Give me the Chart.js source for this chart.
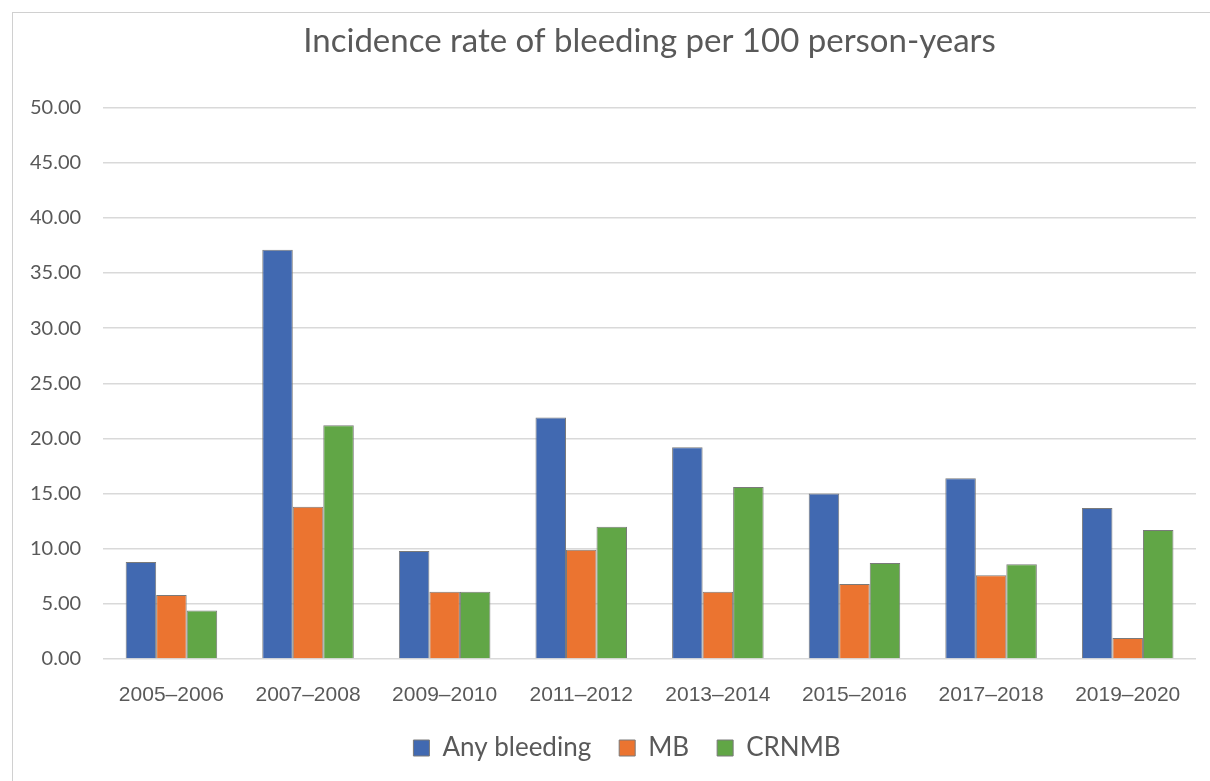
<!DOCTYPE html>
<html>
<head>
<meta charset="utf-8">
<script src="https://cdn.jsdelivr.net/npm/chart.js@4.4.1/dist/chart.umd.min.js"></script>
<style>
  html, body { margin: 0; padding: 0; background: #fff; overflow: hidden; }
  #wrap { position: relative; width: 1210px; height: 781px; }
  #frame { position: absolute; left: 12px; top: 12px; width: 1300px; height: 900px;
           border: 1px solid #d0d0d0; pointer-events: none; }
</style>
</head>
<body>
<div id="wrap">
  <canvas id="bleeding" width="1210" height="781"></canvas>
  <div id="frame"></div>
</div>
<script>
const periods = ['2005–2006', '2007–2008', '2009–2010', '2011–2012', '2013–2014', '2015–2016', '2017–2018', '2019–2020'];
const anyBleeding = [8.8, 37.1, 9.8, 21.9, 19.2, 15.0, 16.4, 13.7];
const majorBleeding = [5.8, 13.8, 6.1, 9.9, 6.1, 6.8, 7.6, 1.9];
const crnmBleeding = [4.4, 21.2, 6.1, 12.0, 15.6, 8.7, 8.6, 11.7];

const calibriLike = 'Lato, "Open Sans", sans-serif';

// Excel puts the legend a bit right of the canvas centre
const nudgeLegend = {
  id: 'nudgeLegend',
  afterLayout(chart) {
    const lg = chart.legend;
    if (!lg) return;
    lg.left += 25;
    lg.right += 25;
  }
};

const ctx = document.getElementById('bleeding').getContext('2d');
new Chart(ctx, {
  type: 'bar',
  data: {
    labels: periods,
    datasets: [
      { label: 'Any bleeding', data: anyBleeding, backgroundColor: '#4169b1' },
      { label: 'MB', data: majorBleeding, backgroundColor: '#eb7430' },
      { label: 'CRNMB', data: crnmBleeding, backgroundColor: '#61a646' }
    ].map(d => Object.assign(d, {
      borderColor: '#7a7a7a',
      borderWidth: 1,
      categoryPercentage: 0.67,
      barPercentage: 1.0
    }))
  },
  plugins: [nudgeLegend],
  options: {
    responsive: false,
    animation: false,
    layout: { padding: { left: 8, right: 14, top: 0, bottom: 10 } },
    scales: {
      x: {
        grid: { display: false, drawTicks: false },
        border: { display: false },
        ticks: {
          color: '#595959',
          padding: 24,
          font: { family: '"Liberation Sans", Arial, sans-serif', size: 21 }
        },
        afterFit: s => { s.height = 48; }
      },
      y: {
        min: 0,
        max: 50,
        grid: { color: '#d9d9d9', lineWidth: 1.5, drawTicks: false },
        border: { display: false },
        ticks: {
          stepSize: 5,
          color: '#595959',
          padding: 22,
          font: { family: calibriLike, size: 20 },
          callback: v => Number(v).toFixed(2)
        }
      }
    },
    plugins: {
      title: {
        display: true,
        fullSize: false,
        text: 'Incidence rate of bleeding per 100 person-years',
        color: '#595959',
        padding: { top: 22, bottom: 46 },
        font: { family: calibriLike, size: 33, weight: 'normal' }
      },
      legend: {
        position: 'bottom',
        labels: {
          color: '#595959',
          boxWidth: 16,
          boxHeight: 16,
          padding: 28,
          font: { family: calibriLike, size: 26 }
        }
      },
      tooltip: { enabled: false }
    }
  }
});
</script>
</body>
</html>
